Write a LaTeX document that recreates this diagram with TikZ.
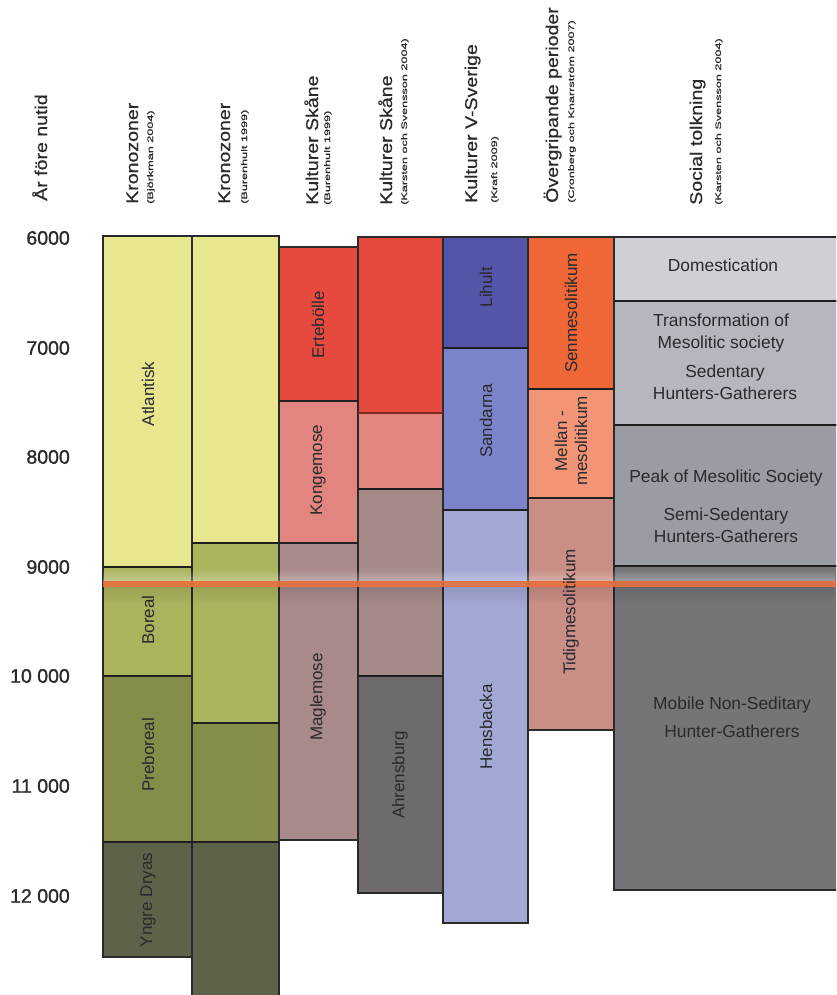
\documentclass[tikz,border=0pt]{standalone}
\usepackage{fontspec}
\setmainfont{Liberation Sans}
\newfontfamily\heavyfont[FakeBold=1.2]{Liberation Sans}
\newfontfamily\midfont[FakeBold=0.5]{Liberation Sans}
\usetikzlibrary{fadings}

% palette
\definecolor{atl}{HTML}{E8E78F}
\definecolor{bor}{HTML}{ABB35D}
\definecolor{pre}{HTML}{868D4B}
\definecolor{yng}{HTML}{5D6348}
\definecolor{ert}{HTML}{E64A3F}
\definecolor{kon}{HTML}{E3857F}
\definecolor{mag}{HTML}{A98A8A}
\definecolor{mau}{HTML}{A58A88}
\definecolor{ahr}{HTML}{6F6A6B}
\definecolor{lih}{HTML}{5355A9}
\definecolor{san}{HTML}{7B84C9}
\definecolor{hen}{HTML}{A2A8D4}
\definecolor{sen}{HTML}{EF6637}
\definecolor{mel}{HTML}{F29476}
\definecolor{tid}{HTML}{C98E85}
\definecolor{dom}{HTML}{CFCFD6}
\definecolor{tra}{HTML}{B6B6BE}
\definecolor{pea}{HTML}{9A9CA3}
\definecolor{mob}{HTML}{747479}
\definecolor{edge}{HTML}{2A2A2A}
\definecolor{txt}{HTML}{2A2A2E}
\definecolor{hot}{HTML}{E8703E}

\newcommand{\subscale}[1]{\scalebox{1.58}[1]{#1}}
\newcommand{\headscale}[1]{\scalebox{1.15}[1]{#1}}

\tikzset{
  blk/.style={draw=edge, line width=1.2pt},
  sepline/.style={draw=black!88, line width=2.6pt},
  lbl/.style={rotate=90, inner sep=0pt, text=txt, font=\fontsize{17}{20}\selectfont},
  soc/.style={inner sep=0pt, text=txt, align=center, font=\fontsize{17.4}{22}\selectfont},
  yr/.style={anchor=east, inner sep=0pt, text=txt, font=\heavyfont\fontsize{19.5}{20}\selectfont},
  head/.style={rotate=90, anchor=base west, inner sep=0pt, text=txt, font=\midfont\fontsize{17}{17}\selectfont},
  subhead/.style={rotate=90, anchor=base west, inner sep=0pt, text=txt, font=\midfont\fontsize{8}{8}\selectfont},
}

\begin{document}
\begin{tikzpicture}[x=1pt, y=-1pt]
\useasboundingbox (0,0) rectangle (836,995);
\fill[white] (0,0) rectangle (836,995);
\begin{scope}
\clip (0,0) rectangle (836,995);

% Kronozoner (Bjorkman)
\filldraw[blk, fill=atl] (103,236) rectangle (192,567);
\filldraw[blk, fill=bor] (103,567) rectangle (192,676);
\filldraw[blk, fill=pre] (103,676) rectangle (192,842);
\filldraw[blk, fill=yng] (103,842) rectangle (192,957);
% Kronozoner (Burenhult)
\filldraw[blk, fill=atl] (192,236) rectangle (279,543);
\filldraw[blk, fill=bor] (192,543) rectangle (279,723);
\filldraw[blk, fill=pre] (192,723) rectangle (279,842);
\filldraw[blk, fill=yng] (192,842) rectangle (279,1000);
% Kulturer Skane (Burenhult)
\filldraw[blk, fill=ert] (279,247) rectangle (358,401);
\filldraw[blk, fill=kon] (279,401) rectangle (358,543);
\filldraw[blk, fill=mag] (279,543) rectangle (358,840);
% Kulturer Skane (Karsten och Svensson)
\filldraw[blk, fill=ert] (358,237) rectangle (443,413);
\filldraw[blk, fill=kon] (358,413) rectangle (443,489);
\filldraw[blk, fill=mau] (358,489) rectangle (443,676);
\filldraw[blk, fill=ahr] (358,676) rectangle (443,893);
% Kulturer V-Sverige
\filldraw[blk, fill=lih] (443,237) rectangle (528,348);
\filldraw[blk, fill=san] (443,348) rectangle (528,510);
\filldraw[blk, fill=hen] (443,510) rectangle (528,923);
% Overgripande perioder
\filldraw[blk, fill=sen] (528,237) rectangle (614,389);
\filldraw[blk, fill=mel] (528,389) rectangle (614,498);
\filldraw[blk, fill=tid] (528,498) rectangle (614,730);
% Social tolkning
\filldraw[blk, fill=dom] (614,237) rectangle (840,301);
\filldraw[blk, fill=tra] (614,301) rectangle (840,425);
\filldraw[blk, fill=pea] (614,425) rectangle (840,566);
\filldraw[blk, fill=mob] (614,566) rectangle (840,890);

% soft glow behind the marker line
\fill[white, opacity=0.3, path fading=north] (103,569) rectangle (836,581);
\fill[black, opacity=0.10, path fading=south] (103,587) rectangle (836,604);

% boundaries between periods
\draw[sepline] (103,567) -- (192,567);
\draw[sepline] (103,676) -- (192,676);
\draw[sepline] (103,842) -- (279,842);
\draw[sepline] (192,543) -- (358,543);
\draw[sepline] (192,723) -- (279,723);
\draw[sepline] (279,401) -- (358,401);
\draw[draw=ert!55!black, line width=2pt] (358,413) -- (443,413);
\draw[sepline] (358,489) -- (443,489);
\draw[sepline] (358,676) -- (443,676);
\draw[sepline] (443,348) -- (528,348);
\draw[sepline] (443,510) -- (528,510);
\draw[sepline] (528,389) -- (614,389);
\draw[sepline] (528,498) -- (614,498);
\draw[sepline] (614,301) -- (840,301);
\draw[sepline] (614,425) -- (840,425);
\draw[sepline] (614,566) -- (840,566);

% marker line
\draw[hot, opacity=0.9, line width=6pt] (103,584) -- (836,584);
\end{scope}

% year axis
\node[yr] (y6)  at (70,238) {6000};
\node[yr] (y7)  at (70,348) {7000};
\node[yr] (y8)  at (70,457) {8000};
\node[yr] (y9)  at (70,567) {9000};
\node[yr] (y10) at (70,676) {10 000};
\node[yr] (y11) at (70,786) {11 000};
\node[yr] (y12) at (70,896) {12 000};

% column headings
\node[head] (h0) at (47,201) {\headscale{År före nutid}};
\node[head] (h1) at (138,204) {\headscale{Kronozoner}};
\node[subhead] (s1) at (153,204) {\subscale{(Björkman 2004)}};
\node[head] (h2) at (230,204) {\headscale{Kronozoner}};
\node[subhead] (s2) at (247,204) {\subscale{(Burenhult 1999)}};
\node[head] (h3) at (318,205) {\headscale{Kulturer Skåne}};
\node[subhead] (s3) at (330,205) {\subscale{(Burenhult 1999)}};
\node[head] (h4) at (392,205) {\headscale{Kulturer Skåne}};
\node[subhead] (s4) at (407,205) {\subscale{(Karsten och Svensson 2004)}};
\node[head] (h5) at (477,203) {\headscale{Kulturer V-Sverige}};
\node[subhead] (s5) at (497,203) {\subscale{(Kraft 2009)}};
\node[head] (h6) at (558,203) {\headscale{Övergripande perioder}};
\node[subhead] (s6) at (574,203) {\subscale{(Cronberg och Knarrström 2007)}};
\node[head] (h7) at (702,205) {\headscale{Social tolkning}};
\node[subhead] (s7) at (721,205) {\subscale{(Karsten och Svensson 2004)}};

% period labels
\node[lbl] (atlantisk) at (148,394) {Atlantisk};
\node[lbl] (boreal) at (148,620) {Boreal};
\node[lbl] (preboreal) at (148,755) {Preboreal};
\node[lbl] (yngre) at (148,900) {Yngre Dryas};
\node[lbl] (ertebolle) at (318,325) {Ertebölle};
\node[lbl] (kongemose) at (318,470) {Kongemose};
\node[lbl] (maglemose) at (318,697) {Maglemose};
\node[lbl] (ahrensburg) at (400,775) {Ahrensburg};
\node[lbl] (lihult) at (486,287) {Lihult};
\node[lbl] (sandarna) at (486,421) {Sandarna};
\node[lbl] (hensbacka) at (486,727) {Hensbacka};
\node[lbl] (senmeso) at (571,313) {Senmesolitikum};
\node[lbl, align=center] (mellanmeso) at (571,441) {Mellan -\\mesolitikum};
\node[lbl] (tidigmeso) at (571,612) {Tidigmesolitikum};

% social interpretation
\node[soc] (domest) at (723,265) {Domestication};
\node[soc] (transf) at (721,333) {Transformation of\\Mesolitic society};
\node[soc] (sedent) at (725,382) {Sedentary\\Hunters-Gatherers};
\node[soc] (peak) at (726,478) {Peak of Mesolitic Society};
\node[soc] (semised) at (726,525) {Semi-Sedentary\\Hunters-Gatherers};
\node[soc, font=\fontsize{17.4}{28}\selectfont] (mobile) at (732,717) {Mobile Non-Seditary\\Hunter-Gatherers};
\end{tikzpicture}
\end{document}
